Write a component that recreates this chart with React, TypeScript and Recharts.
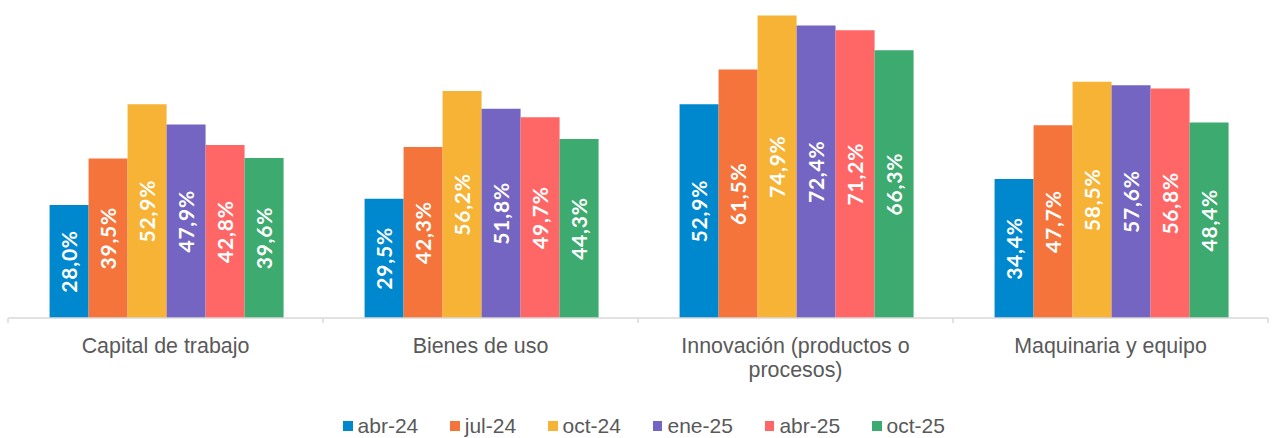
import { BarChart, Bar, XAxis, YAxis, Legend, LabelList } from "recharts";

const categories = [
  "Capital de trabajo",
  "Bienes de uso",
  "Innovación (productos o\nprocesos)",
  "Maquinaria y equipo",
];

const seriesNames = ["abr-24", "jul-24", "oct-24", "ene-25", "abr-25", "oct-25"];
const abr24 = [28.0, 29.5, 52.9, 34.4];
const jul24 = [39.5, 42.3, 61.5, 47.7];
const oct24 = [52.9, 56.2, 74.9, 58.5];
const ene25 = [47.9, 51.8, 72.4, 57.6];
const abr25 = [42.8, 49.7, 71.2, 56.8];
const oct25 = [39.6, 44.3, 66.3, 48.4];

const colors = ["#0088ce", "#f4743b", "#f6b335", "#7465c2", "#ff6767", "#3daa6f"];
const seriesValues = [abr24, jul24, oct24, ene25, abr25, oct25];
const keys = ["s0", "s1", "s2", "s3", "s4", "s5"];

const data = categories.map((name, i) => {
  const row: Record<string, string | number> = { name };
  seriesValues.forEach((vals, s) => {
    row[keys[s]] = vals[i];
  });
  return row;
});

const W = 1276;
const H = 438;
const MARGIN = { top: 15, right: 8, bottom: 0, left: 8 };
const PLOT_W = W - MARGIN.left - MARGIN.right;
const textFont = "'Liberation Sans', Arial, sans-serif";
const labelFont = "Lato, 'Open Sans', sans-serif";

function CategoryTick(props: any) {
  const { x, y, payload, index } = props;
  const band = PLOT_W / categories.length;
  const lines = String(payload.value).split("\n");
  return (
    <g>
      <line x1={x - band / 2} x2={x - band / 2} y1={y} y2={y + 5} stroke="#d9d9d9" strokeWidth={1.5} />
      {index === categories.length - 1 && (
        <line x1={x + band / 2} x2={x + band / 2} y1={y} y2={y + 5} stroke="#d9d9d9" strokeWidth={1.5} />
      )}
      <text x={x} y={y + 35} textAnchor="middle" fill="#595959" style={{ fontSize: 21.4, fontFamily: textFont }}>
        {lines.map((l, i) => (
          <tspan key={i} x={x} dy={i === 0 ? 0 : 24}>
            {l}
          </tspan>
        ))}
      </text>
    </g>
  );
}

function LegendContent() {
  return (
    <div
      style={{
        display: "flex",
        justifyContent: "center",
        alignItems: "center",
        gap: 32,
        height: 24,
        paddingLeft: 12,
        fontFamily: textFont,
        fontSize: 21,
        color: "#595959",
      }}
    >
      {seriesNames.map((n, i) => (
        <div key={n} style={{ display: "flex", alignItems: "center" }}>
          <span style={{ width: 9.5, height: 9.5, background: colors[i], marginRight: 5, display: "inline-block" }} />
          <span>{n}</span>
        </div>
      ))}
    </div>
  );
}

const fmt = (v: any) => Number(v).toFixed(1).replace(".", ",") + "%";

export default function App() {
  return (
    <div style={{ position: "absolute", left: 0, top: 0, width: W, height: H, background: "#fff" }}>
      <BarChart width={W} height={H} data={data} margin={MARGIN} barCategoryGap="13.2%" barGap={0}>
        <XAxis
          dataKey="name"
          interval={0}
          height={96}
          tickSize={0}
          tickMargin={0}
          tickLine={false}
          axisLine={{ stroke: "#d9d9d9", strokeWidth: 1.5 }}
          tick={<CategoryTick />}
        />
        <YAxis hide domain={[0, 75]} />
        <Legend verticalAlign="bottom" content={<LegendContent />} />
        {keys.map((k, i) => (
          <Bar key={k} dataKey={k} name={seriesNames[i]} fill={colors[i]} isAnimationActive={false}>
            <LabelList
              dataKey={k}
              position="center"
              angle={-90}
              formatter={fmt}
              fill="#ffffff"
              style={{ fontFamily: labelFont, fontWeight: 700, fontSize: 21, letterSpacing: 0.8 }}
            />
          </Bar>
        ))}
      </BarChart>
    </div>
  );
}
